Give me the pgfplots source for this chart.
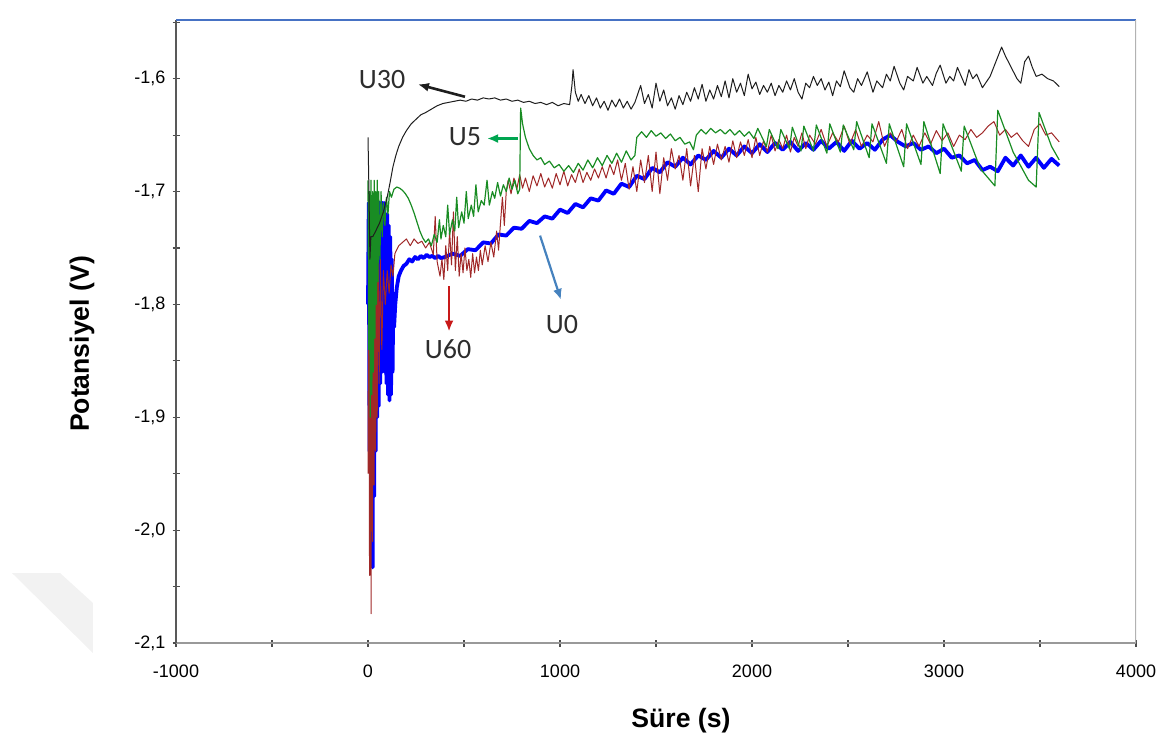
\documentclass[border=0pt]{standalone}
\usepackage{fontspec}
\setmainfont{Liberation Sans}
\newfontfamily\calibri{Carlito}
\usepackage{pgfplots}
\pgfplotsset{compat=1.18}
\usetikzlibrary{arrows.meta}

\definecolor{serBlue}{RGB}{0,0,255}
\definecolor{serRed}{RGB}{160,40,40}
\definecolor{serGreen}{RGB}{25,140,35}
\definecolor{serBlack}{RGB}{30,30,30}
\definecolor{arrGreen}{RGB}{0,165,80}
\definecolor{arrRed}{RGB}{200,25,25}
\definecolor{arrBlue}{RGB}{70,130,190}
\definecolor{frameBlue}{RGB}{70,114,196}
\definecolor{lblGray}{RGB}{45,45,45}

\begin{document}
\begin{tikzpicture}
\begin{axis}[
  scale only axis, width=480pt, height=311.5pt,
  xmin=-1000, xmax=4000, ymin=-2.1, ymax=-1.548,
  axis lines=left, axis line style={-},
  x axis line style={draw=gray!80, line width=1.4pt},
  y axis line style={draw=black!65, line width=0.7pt},
  xtick={-1000,0,1000,2000,3000,4000},
  minor xtick={-500,500,1500,2500,3500},
  ytick={-2.1,-2,-1.9,-1.8,-1.7,-1.6},
  minor ytick={-2.05,-1.95,-1.85,-1.75,-1.65,-1.55},
  tick align=center, major tick length=3.5pt, minor tick length=3.5pt,
  tick style={black!70, line width=0.6pt},
  ticklabel style={font=\fontsize{9}{10}\selectfont, /pgf/number format/assume math mode=true},
  yticklabel style={/pgf/number format/.cd, fixed, fixed zerofill, precision=1, use comma},
  xticklabel style={/pgf/number format/1000 sep={}, yshift=-5.5pt},
  xlabel={Süre (s)}, ylabel={Potansiyel (V)},
  label style={font=\fontsize{13.3}{16}\selectfont\bfseries},
  xlabel style={at={(axis description cs:0.526,-0.124)}, anchor=center},
  ylabel style={at={(axis description cs:-0.098,0.48)}, anchor=center},
  every axis plot/.append style={line join=round},
]
% frame on the top and right sides
\draw[frameBlue, line width=0.8pt] (rel axis cs:0,1) -- (rel axis cs:1,1);
\draw[gray!60, line width=0.9pt] (rel axis cs:1,0) -- (rel axis cs:1,1);

% U0
\addplot[serBlue, line width=1.9pt] coordinates {
(0,-1.80)(4,-1.71)(8,-1.93)(12,-1.71)(16,-1.99)(20,-1.72)(24,-2.033)(28,-1.71)(32,-1.97)(36,-1.71)(40,-1.93)(44,-1.71)(48,-1.90)(52,-1.71)(56,-1.89)(60,-1.71)(64,-1.87)(68,-1.71)(72,-1.86)(76,-1.71)(80,-1.85)(84,-1.71)(88,-1.86)(92,-1.72)(96,-1.87)(100,-1.72)(104,-1.88)(108,-1.73)(112,-1.885)(116,-1.74)(120,-1.88)(124,-1.76)(128,-1.86)(132,-1.79)(136,-1.82)(142,-1.80)(150,-1.785)(160,-1.775)(172,-1.770)(185,-1.766)(200,-1.764)(215,-1.760)(230,-1.762)(245,-1.758)(260,-1.760)(275,-1.757)(290,-1.759)(305,-1.756)(320,-1.758)(335,-1.757)(350,-1.759)(365,-1.757)(380,-1.759)
(400,-1.758)(440,-1.755)(480,-1.757)(520,-1.751)(560,-1.752)(600,-1.745)(640,-1.746)(680,-1.738)(720,-1.739)(760,-1.732)(800,-1.733)(840,-1.726)(880,-1.728)(920,-1.722)(960,-1.724)(1000,-1.716)(1040,-1.719)(1080,-1.711)(1120,-1.714)(1160,-1.706)(1200,-1.708)(1240,-1.699)(1280,-1.702)(1320,-1.693)(1360,-1.696)(1400,-1.686)(1440,-1.689)(1480,-1.679)(1520,-1.683)(1560,-1.674)(1600,-1.678)(1640,-1.670)(1680,-1.676)(1720,-1.668)(1760,-1.672)(1800,-1.664)(1840,-1.670)(1880,-1.662)(1920,-1.668)(1960,-1.660)(2000,-1.666)(2040,-1.658)(2080,-1.665)(2120,-1.657)(2160,-1.663)(2200,-1.656)(2240,-1.664)(2280,-1.657)(2320,-1.663)(2360,-1.655)(2400,-1.662)(2440,-1.656)(2480,-1.664)(2520,-1.655)(2560,-1.662)(2600,-1.657)(2640,-1.663)(2680,-1.654)(2720,-1.650)(2760,-1.656)(2800,-1.660)(2840,-1.657)(2880,-1.663)(2920,-1.660)(2960,-1.666)(3000,-1.662)(3040,-1.670)(3080,-1.668)(3120,-1.675)(3160,-1.672)(3200,-1.681)(3240,-1.678)(3280,-1.682)(3320,-1.670)(3360,-1.677)(3400,-1.668)(3440,-1.678)(3480,-1.670)(3520,-1.679)(3560,-1.671)(3600,-1.677)
};

% U60
\addplot[serRed, line width=0.5pt] coordinates {
(0,-1.95)(4,-1.72)(8,-2.04)(12,-1.74)(16,-2.074)(20,-1.75)(24,-2.01)(28,-1.73)(32,-1.96)(36,-1.72)(40,-1.93)(44,-1.73)(48,-1.90)(52,-1.74)(58,-1.87)(64,-1.76)(72,-1.84)(80,-1.77)(90,-1.80)(100,-1.77)(110,-1.79)(120,-1.765)(130,-1.775)
(140,-1.755)(160,-1.748)(180,-1.745)(200,-1.742)(220,-1.748)(240,-1.742)(260,-1.746)(280,-1.744)(300,-1.750)(320,-1.745)(340,-1.756)(350,-1.722)(360,-1.762)(375,-1.775)(385,-1.760)(395,-1.778)(405,-1.748)(415,-1.770)(425,-1.735)(435,-1.765)(445,-1.718)(455,-1.770)(465,-1.740)(475,-1.775)(485,-1.755)(495,-1.772)(505,-1.750)(515,-1.770)(525,-1.760)(535,-1.776)(545,-1.755)(555,-1.772)(565,-1.758)(575,-1.770)(585,-1.752)(595,-1.765)(610,-1.748)(625,-1.762)(640,-1.745)(655,-1.758)(670,-1.735)(680,-1.752)(690,-1.728)(700,-1.705)(710,-1.730)(720,-1.700)(730,-1.690)(745,-1.702)(760,-1.688)(775,-1.698)(790,-1.685)(805,-1.697)(820,-1.688)(840,-1.700)(860,-1.686)(880,-1.695)(900,-1.684)(920,-1.696)(940,-1.688)(960,-1.697)(980,-1.684)(1000,-1.694)(1020,-1.682)(1040,-1.695)(1060,-1.685)(1080,-1.692)(1100,-1.680)(1120,-1.692)(1140,-1.683)(1160,-1.690)(1180,-1.680)(1200,-1.688)(1220,-1.678)(1240,-1.688)(1260,-1.676)(1280,-1.685)(1300,-1.672)(1320,-1.690)(1340,-1.675)(1360,-1.698)(1380,-1.678)(1400,-1.700)(1420,-1.672)(1440,-1.692)(1460,-1.668)(1480,-1.700)(1500,-1.665)(1520,-1.702)(1540,-1.670)(1560,-1.690)(1580,-1.662)(1600,-1.680)(1620,-1.668)(1640,-1.690)(1660,-1.662)(1680,-1.695)(1700,-1.668)(1720,-1.700)(1740,-1.662)(1760,-1.680)(1780,-1.660)(1800,-1.676)(1820,-1.658)(1840,-1.672)(1860,-1.660)(1880,-1.674)(1900,-1.655)(1920,-1.670)(1940,-1.656)(1960,-1.668)(1980,-1.654)(2000,-1.670)(2020,-1.652)(2040,-1.668)(2060,-1.655)(2080,-1.665)(2100,-1.650)(2120,-1.664)(2140,-1.654)(2160,-1.662)(2180,-1.650)(2200,-1.665)(2220,-1.652)(2240,-1.660)(2260,-1.648)(2280,-1.662)(2300,-1.650)(2330,-1.658)(2360,-1.645)(2390,-1.660)(2420,-1.648)(2450,-1.656)(2480,-1.642)(2510,-1.658)(2540,-1.645)(2570,-1.660)(2600,-1.650)(2630,-1.656)(2660,-1.638)(2690,-1.660)(2720,-1.648)(2750,-1.656)(2780,-1.645)(2810,-1.662)(2840,-1.650)(2870,-1.660)(2900,-1.648)(2930,-1.658)(2960,-1.646)(2990,-1.655)(3020,-1.648)(3050,-1.660)(3080,-1.650)(3110,-1.654)(3140,-1.645)(3170,-1.652)(3200,-1.648)(3230,-1.642)(3260,-1.638)(3290,-1.650)(3320,-1.645)(3350,-1.652)(3380,-1.648)(3410,-1.655)(3440,-1.660)(3470,-1.645)(3500,-1.640)(3530,-1.650)(3560,-1.648)(3600,-1.656)
};

% U5
\addplot[serGreen, line width=0.6pt] coordinates {
(0,-1.69)(4,-1.84)(8,-1.70)(12,-1.90)(16,-1.69)(20,-1.88)(24,-1.70)(28,-1.86)(32,-1.69)(36,-1.83)(40,-1.70)(44,-1.80)(48,-1.69)(52,-1.78)(56,-1.70)(62,-1.76)(68,-1.70)(74,-1.74)(80,-1.71)(88,-1.73)(96,-1.705)(104,-1.72)(112,-1.70)(122,-1.705)(135,-1.698)(150,-1.696)(165,-1.697)(180,-1.699)(195,-1.702)(210,-1.706)(225,-1.712)(240,-1.719)(255,-1.727)(270,-1.735)(285,-1.741)(300,-1.745)(315,-1.742)(330,-1.748)(345,-1.738)(360,-1.745)(372,-1.725)(380,-1.742)(392,-1.730)(405,-1.740)(415,-1.712)(425,-1.738)(440,-1.725)(452,-1.735)(462,-1.705)(472,-1.732)(488,-1.718)(500,-1.728)(512,-1.700)(522,-1.724)(538,-1.712)(550,-1.722)(562,-1.694)(574,-1.718)(590,-1.708)(605,-1.712)(620,-1.690)(632,-1.712)(648,-1.700)(660,-1.706)(675,-1.692)(690,-1.704)(705,-1.694)(720,-1.700)(735,-1.688)(750,-1.698)(765,-1.690)(780,-1.702)(790,-1.698)(795,-1.626)(805,-1.640)(820,-1.652)(840,-1.662)(860,-1.668)(880,-1.672)(900,-1.670)(920,-1.676)(945,-1.673)(970,-1.679)(995,-1.676)(1020,-1.682)(1045,-1.677)(1070,-1.683)(1095,-1.675)(1120,-1.681)(1145,-1.672)(1170,-1.679)(1195,-1.670)(1220,-1.677)(1245,-1.668)(1270,-1.675)(1295,-1.666)(1320,-1.674)(1345,-1.664)(1370,-1.672)(1390,-1.668)(1400,-1.652)(1425,-1.647)(1450,-1.652)(1475,-1.646)(1500,-1.651)(1525,-1.648)(1550,-1.653)(1575,-1.649)(1600,-1.655)(1625,-1.652)(1650,-1.658)(1675,-1.656)(1695,-1.663)(1710,-1.650)(1735,-1.645)(1760,-1.649)(1785,-1.644)(1810,-1.648)(1835,-1.645)(1860,-1.649)(1885,-1.645)(1910,-1.650)(1935,-1.646)(1960,-1.651)(1985,-1.647)(2010,-1.653)(2030,-1.644)(2075,-1.660)(2090,-1.645)(2135,-1.662)(2150,-1.645)(2195,-1.662)(2210,-1.643)(2255,-1.664)(2270,-1.642)(2320,-1.664)(2335,-1.641)(2390,-1.666)(2405,-1.640)(2460,-1.665)(2475,-1.641)(2530,-1.663)(2545,-1.638)(2610,-1.670)(2625,-1.640)(2700,-1.675)(2715,-1.640)(2790,-1.678)(2805,-1.640)(2880,-1.676)(2895,-1.638)(2980,-1.684)(2995,-1.640)(3090,-1.682)(3105,-1.642)(3190,-1.680)(3265,-1.695)(3280,-1.628)(3360,-1.665)(3440,-1.690)(3480,-1.696)(3495,-1.630)(3560,-1.660)(3600,-1.672)
};

% U30
\addplot[serBlack, line width=0.5pt] coordinates {
(0,-1.652)(5,-1.70)(10,-1.76)(15,-1.74)(25,-1.74)(40,-1.735)(60,-1.728)(80,-1.718)(100,-1.705)(115,-1.692)(130,-1.678)(145,-1.668)(160,-1.660)(180,-1.652)(200,-1.646)(225,-1.640)(250,-1.636)(275,-1.632)(300,-1.630)(330,-1.627)(360,-1.624)(390,-1.622)(420,-1.621)(450,-1.620)(480,-1.619)(510,-1.620)(540,-1.618)(570,-1.619)(600,-1.617)(630,-1.618)(660,-1.617)(690,-1.619)(720,-1.618)(750,-1.620)(780,-1.619)(810,-1.621)(840,-1.620)(870,-1.622)(900,-1.621)(930,-1.623)(960,-1.621)(990,-1.624)(1020,-1.622)(1050,-1.623)(1062,-1.606)(1068,-1.592)(1080,-1.612)(1095,-1.620)(1110,-1.614)(1130,-1.622)(1150,-1.615)(1170,-1.624)(1190,-1.617)(1210,-1.626)(1230,-1.620)(1250,-1.628)(1270,-1.619)(1290,-1.625)(1310,-1.618)(1330,-1.626)(1350,-1.620)(1370,-1.627)(1390,-1.621)(1420,-1.606)(1440,-1.622)(1460,-1.614)(1480,-1.626)(1500,-1.604)(1520,-1.620)(1540,-1.610)(1560,-1.624)(1580,-1.617)(1600,-1.627)(1620,-1.615)(1640,-1.623)(1660,-1.612)(1680,-1.620)(1700,-1.608)(1720,-1.618)(1740,-1.605)(1760,-1.620)(1780,-1.610)(1800,-1.618)(1820,-1.606)(1840,-1.616)(1860,-1.602)(1880,-1.617)(1900,-1.600)(1920,-1.612)(1940,-1.604)(1960,-1.615)(1980,-1.596)(2000,-1.609)(2020,-1.603)(2040,-1.614)(2060,-1.606)(2080,-1.612)(2100,-1.604)(2120,-1.615)(2140,-1.606)(2160,-1.612)(2180,-1.602)(2200,-1.610)(2220,-1.600)(2240,-1.612)(2260,-1.618)(2280,-1.604)(2300,-1.608)(2320,-1.598)(2340,-1.606)(2360,-1.600)(2380,-1.610)(2400,-1.603)(2420,-1.615)(2440,-1.602)(2460,-1.607)(2480,-1.593)(2510,-1.608)(2530,-1.612)(2550,-1.600)(2570,-1.606)(2600,-1.594)(2630,-1.612)(2650,-1.602)(2680,-1.608)(2700,-1.596)(2720,-1.602)(2740,-1.589)(2770,-1.604)(2790,-1.610)(2810,-1.598)(2840,-1.602)(2860,-1.590)(2890,-1.604)(2910,-1.598)(2940,-1.606)(2960,-1.595)(2980,-1.588)(3010,-1.604)(3030,-1.598)(3050,-1.602)(3070,-1.590)(3090,-1.598)(3110,-1.606)(3130,-1.592)(3150,-1.600)(3170,-1.596)(3200,-1.608)(3240,-1.598)(3270,-1.585)(3300,-1.572)(3320,-1.580)(3350,-1.590)(3380,-1.600)(3400,-1.604)(3420,-1.585)(3440,-1.580)(3460,-1.590)(3480,-1.598)(3510,-1.596)(3540,-1.600)(3570,-1.602)(3600,-1.607)
};

% series labels and pointers
\node[font=\calibri\fontsize{14}{16}\selectfont, text=lblGray] at (axis cs:73,-1.601) {U30};
\draw[-{Latex[length=5.5pt,width=4.5pt]}, serBlack, line width=1.3pt] (axis cs:505,-1.616) -- (axis cs:260,-1.605);
\node[font=\calibri\fontsize{14}{16}\selectfont, text=lblGray] at (axis cs:505,-1.651) {U5};
\draw[-{Latex[length=5.5pt,width=4.5pt]}, arrGreen, line width=1.3pt] (axis cs:781,-1.653) -- (axis cs:620,-1.653);
\node[font=\calibri\fontsize{14}{16}\selectfont, text=lblGray] at (axis cs:417,-1.840) {U60};
\draw[-{Latex[length=5.5pt,width=4.5pt]}, arrRed, line width=1.3pt] (axis cs:422,-1.784) -- (axis cs:422,-1.824);
\node[font=\calibri\fontsize{14}{16}\selectfont, text=lblGray] at (axis cs:1010,-1.818) {U0};
\draw[-{Latex[length=5.5pt,width=4.5pt]}, arrBlue, line width=1.1pt] (axis cs:896,-1.739) -- (axis cs:1005,-1.796);
\end{axis}

% faint corner mark
\fill[gray!10] ([shift={(-82pt,35pt)}]current axis.south west) -- ([shift={(-58pt,35pt)}]current axis.south west) -- ([shift={(-41.5pt,20pt)}]current axis.south west) -- ([shift={(-41.5pt,-5pt)}]current axis.south west) -- cycle;

\pgfresetboundingbox
\path[use as bounding box] ([shift={(-88pt,-55pt)}]current axis.south west) rectangle ([shift={(16pt,10pt)}]current axis.north east);
\end{tikzpicture}
\end{document}
